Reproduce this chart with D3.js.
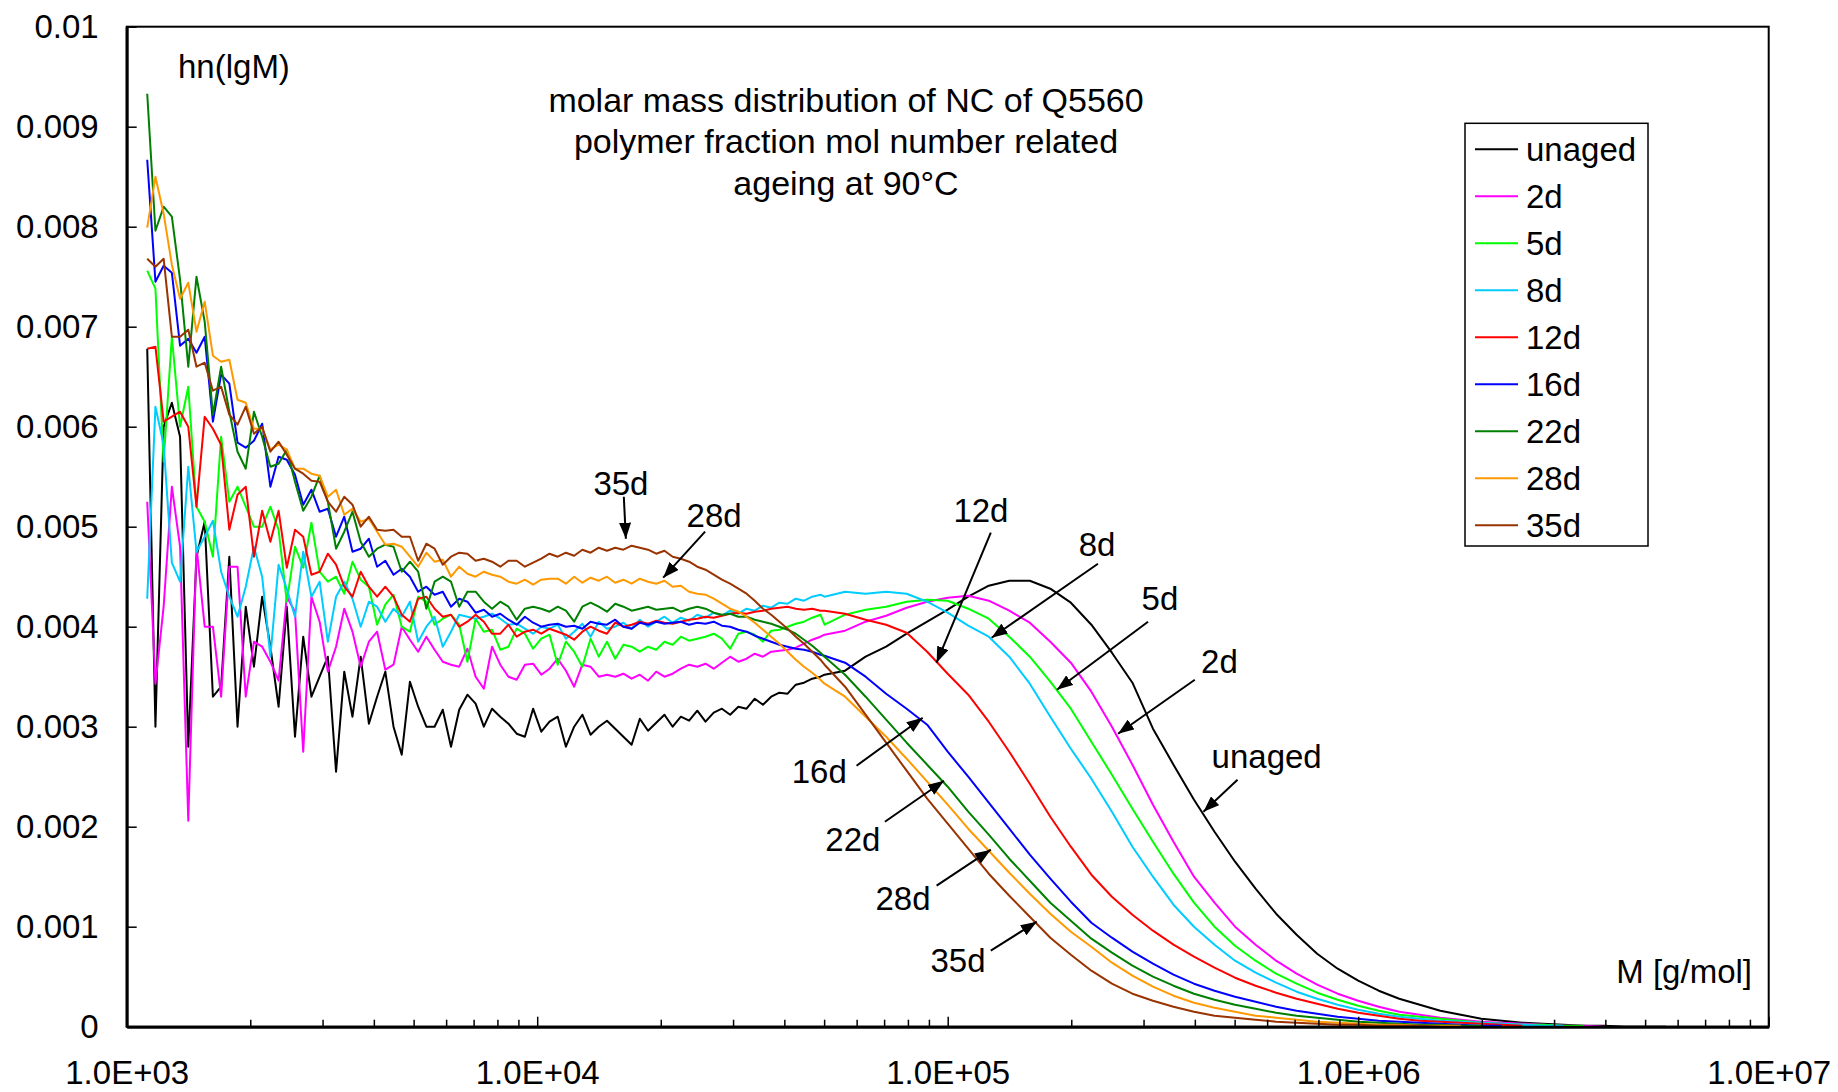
<!DOCTYPE html>
<html>
<head>
<meta charset="utf-8">
<script src="https://cdn.jsdelivr.net/npm/d3@7"></script>
<style>
  body { margin: 0; background: #fff; }
  svg text { font-family: "Liberation Sans", Arial, sans-serif; fill: #000; }
</style>
</head>
<body>
<div id="chart"></div>
<script>
// sampling grid, log10(M): fine steps in the noisy low-mass part, coarser in the smooth tail
const lgFine = d3.range(83).map((i) => 3.05 + 0.02 * i);
const lgCoarse = d3.range(43).map((i) => 4.7 + 0.05 * i);
const lgM = lgFine.concat(lgCoarse);

// hn(lgM) values in units of 1e-5 (null = no data)
const hnUnaged = [
  678, 300, 600, 624, 590, 280, 470, 505, 330, 340, 470, 300, 420, 360, 430, 380, 320, 420, 290, 390, 330, 350, 370, 255,
  355, 310, 370, 303, 330, 355, 300, 272, 345, 320, 300, 300, 317, 280, 317, 332, 323, 300, 318, 310, 303, 293, 290, 318, 295, 305,
  310, 280, 300, 312, 292, 300, 306, 298, 290, 282, 308, 296, 304, 312, 300, 310, 306, 316, 305, 314, 318, 312, 320, 318, 328, 322, 330, 334, 333, 342, 344, 348, 350,
  352, 356, 370, 380, 393, 405, 417, 430, 441, 446, 446, 438, 424, 402, 374, 344, 298, 262, 227, 195, 165, 138, 113, 92, 73, 58, 46, 36, 28, 22, 16, 12, 8, 6, 4, 3, 2, 1, 1, 0, 0, 0, null
];
const hn2d = [
  525, 343, 420, 540, 480, 206, 480, 400, 400, 330, 460, 460, 330, 385, 380, 365, 346, 430, 415, 275, 430, 405, 355, 380,
  418, 395, 360, 385, 395, 357, 362, 400, 387, 375, 390, 377, 365, 362, 360, 378, 350, 338, 380, 362, 350, 347, 362, 363, 352, 358,
  368, 356, 340, 362, 360, 350, 352, 350, 353, 348, 352, 346, 355, 350, 353, 358, 362, 360, 363, 358, 364, 370, 365, 368, 373, 370, 375, 376, 377, 379, 383, 387, 390,
  392, 396, 405, 411, 419, 425, 429, 431, 426, 416, 404, 385, 364, 335, 300, 262, 222, 185, 150, 124, 100, 82, 66, 53, 42, 33, 26, 20, 15, 12, 9, 7, 5, 4, 3, 2, 1, 1, 0, null, null, null, null
];
const hn5d = [
  756, 738, 565, 690, 600, 640, 520, 505, 470, 590, 525, 540, 520, 500, 500, 520, 497, 425, 480, 459, 504, 455, 445, 450,
  433, 465, 447, 440, 402, 422, 432, 400, 395, 430, 425, 402, 408, 412, 402, 365, 408, 395, 397, 377, 380, 398, 393, 378, 388, 392,
  362, 385, 375, 360, 388, 370, 385, 368, 382, 380, 375, 380, 377, 385, 382, 390, 386, 388, 390, 393, 388, 378, 393, 395, 392, 385, 396, 397, 400, 403, 405, 409, 412,
  402, 412, 417, 420, 425, 427, 426, 418, 408, 390, 370, 345, 318, 285, 252, 218, 185, 153, 124, 100, 81, 66, 53, 43, 34, 27, 21, 16, 12, 10, 8, 6, 4, 3, 2, 2, 1, 1, null, null, null, null, null
];
const hn8d = [
  428, 620, 582, 464, 445, 560, 475, 490, 506, 455, 430, 410, 440, 480, 450, 370, 462, 438, 410, 475, 430, 445, 385, 430,
  445, 428, 400, 425, 420, 405, 418, 410, 425, 385, 400, 410, 380, 395, 412, 410, 408, 410, 413, 408, 402, 403, 398, 393, 400, 398,
  402, 388, 395, 403, 390, 405, 398, 400, 404, 398, 407, 400, 405, 410, 404, 409, 406, 412, 409, 414, 411, 416, 413, 418, 416, 421, 419, 424, 423, 428, 426, 430, 432,
  430, 435, 433, 435, 433, 425, 414, 401, 390, 370, 343, 310, 278, 248, 215, 180, 150, 122, 100, 82, 66, 54, 44, 35, 28, 22, 17, 13, 10, 8, 6, 5, 4, 3, 2, 1, 1, null, null, null, null, null, null
];
const hn12d = [
  678, 680, 605, 610, 615, 600, 520, 610, 598, 582, 497, 532, 540, 470, 516, 485, 516, 459, 497, 490, 452, 455, 473, 462,
  440, 430, 455, 440, 430, 440, 430, 412, 405, 428, 430, 418, 410, 412, 400, 405, 412, 405, 393, 393, 402, 390, 395, 397, 393, 398,
  395, 392, 387, 395, 400, 396, 393, 404, 400, 402, 405, 403, 406, 404, 403, 405, 407, 408, 410, 409, 411, 413, 414, 413, 415, 416, 418, 419, 420, 418, 417, 418, 416,
  416, 413, 407, 402, 394, 375, 353, 332, 305, 275, 243, 210, 180, 152, 130, 112, 96, 82, 70, 59, 49, 41, 34, 28, 23, 18, 14, 11, 8, 6, 5, 4, 3, 2, 1, null, null, null, null, null, null, null, null
];
const hn16d = [
  867, 745, 761, 754, 681, 688, 674, 690, 605, 652, 643, 584, 579, 586, 603, 540, 570, 567, 552, 522, 537, 515, 518, 490,
  510, 475, 478, 488, 460, 466, 452, 458, 450, 435, 440, 432, 435, 420, 428, 425, 414, 417, 410, 413, 407, 402, 410, 404, 400, 402,
  403, 400, 401, 398, 405, 403, 402, 407, 400, 398, 404, 402, 405, 403, 404, 405, 402, 404, 403, 405, 401, 400, 397, 395, 391, 388, 385, 382, 380, 378, 377, 375, 372,
  371, 364, 350, 333, 318, 302, 275, 250, 224, 198, 172, 148, 125, 104, 89, 75, 63, 52, 43, 36, 30, 25, 20, 16, 13, 10, 8, 6, 5, 4, 3, 2, 1, 1, null, null, null, null, null, null, null, null, null
];
const hn22d = [
  933, 796, 820, 810, 747, 660, 750, 705, 612, 660, 615, 575, 558, 615, 590, 560, 563, 577, 545, 516, 530, 551, 525, 478,
  495, 515, 485, 470, 478, 482, 480, 455, 465, 455, 418, 445, 450, 445, 420, 435, 435, 425, 418, 425, 420, 407, 418, 420, 418, 415,
  420, 416, 405, 420, 424, 420, 415, 423, 420, 416, 418, 420, 417, 418, 419, 415, 418, 420, 418, 414, 412, 413, 410, 410, 407, 405, 403, 400, 397, 393, 387, 381, 374,
  370, 352, 330, 307, 284, 262, 240, 215, 192, 168, 146, 124, 106, 88, 74, 61, 50, 41, 33, 27, 22, 18, 14, 11, 9, 7, 5, 4, 3, 2, 2, 1, 1, null, null, null, null, null, null, null, null, null, null
];
const hn28d = [
  799, 850, 813, 762, 728, 744, 695, 725, 671, 665, 667, 627, 624, 598, 598, 577, 582, 577, 558, 558, 553, 551, 530, 537,
  512, 518, 505, 508, 495, 482, 483, 480, 470, 460, 474, 465, 467, 450, 460, 453, 450, 455, 452, 450, 445, 443, 447, 442, 447, 448,
  448, 443, 450, 444, 449, 446, 450, 444, 447, 443, 448, 445, 443, 446, 440, 441, 435, 433, 432, 428, 423, 418, 415, 410, 404, 397, 390, 383, 375, 367, 360, 354, 347,
  343, 330, 310, 290, 268, 245, 222, 198, 176, 154, 133, 113, 95, 80, 64, 51, 40, 31, 24, 19, 15, 11, 9, 7, 5, 4, 3, 2, 2, 1, 1, 1, null, null, null, null, null, null, null, null, null, null, null
];
const hn35d = [
  768, 760, 768, 690, 690, 697, 660, 664, 636, 640, 612, 602, 620, 593, 600, 575, 585, 572, 558, 553, 546, 545, 525, 515,
  530, 522, 500, 510, 497, 496, 497, 490, 490, 466, 483, 478, 462, 470, 474, 473, 466, 468, 465, 460, 466, 466, 460, 464, 468, 473,
  470, 474, 471, 477, 474, 479, 476, 479, 477, 481, 479, 477, 473, 476, 470, 468, 465, 460, 457, 452, 447, 443, 438, 433, 426, 418, 412, 405, 398, 390, 383, 375, 367,
  362, 340, 312, 284, 256, 228, 203, 178, 153, 131, 110, 89, 72, 56, 43, 33, 26, 20, 15, 11, 9, 7, 5, 4, 3, 2, 2, 1, 1, 1, 0, null, null, null, null, null, null, null, null, null, null, null, null
];

const seriesNames = ["unaged", "2d", "5d", "8d", "12d", "16d", "22d", "28d", "35d"];
const seriesValues = [hnUnaged, hn2d, hn5d, hn8d, hn12d, hn16d, hn22d, hn28d, hn35d];
const seriesColors = ["#000000", "#ff00ff", "#00ff00", "#00ccff", "#ff0000", "#0000ff", "#008000", "#ff9900", "#993300"];

const yTicks = d3.range(11).map((i) => i / 1000);
const yTickLabels = ["0", "0.001", "0.002", "0.003", "0.004", "0.005", "0.006", "0.007", "0.008", "0.009", "0.01"];
const xMajor = [1e3, 1e4, 1e5, 1e6, 1e7];
const xTickLabels = ["1.0E+03", "1.0E+04", "1.0E+05", "1.0E+06", "1.0E+07"];
const xMinor = [];
[1e3, 1e4, 1e5, 1e6].forEach((p) => d3.range(2, 10).forEach((m) => xMinor.push(m * p)));

const titleLines = [
  "molar mass distribution of NC of Q5560",
  "polymer fraction mol number related",
  "ageing at 90°C",
];

// callouts in data units: label [lgM, hn*1e5], arrow start, arrow tip
const callouts = [
  { text: "35d", label: [4.204, 532], from: [4.211, 530], to: [4.216, 488] },
  { text: "28d", label: [4.431, 500], from: [4.409, 495], to: [4.307, 449] },
  { text: "12d", label: [5.081, 505], from: [5.105, 494], to: [4.973, 364] },
  { text: "8d", label: [5.364, 471], from: [5.366, 463], to: [5.107, 389] },
  { text: "5d", label: [5.517, 417], from: [5.488, 405], to: [5.266, 337] },
  { text: "2d", label: [5.662, 354], from: [5.602, 347], to: [5.415, 293] },
  { text: "unaged", label: [5.777, 259], from: [5.706, 247], to: [5.623, 215] },
  { text: "16d", label: [4.687, 244], from: [4.778, 261], to: [4.939, 309] },
  { text: "22d", label: [4.769, 176], from: [4.847, 205], to: [4.991, 246] },
  { text: "28d", label: [4.891, 117], from: [4.973, 141], to: [5.105, 177] },
  { text: "35d", label: [5.025, 55], from: [5.105, 76], to: [5.217, 105] },
];

const width = 1838;
const height = 1092;
const fontSize = 33;
const plotL = 126.7, plotR = 1768.7, plotT = 26.7, plotB = 1026.7;

const x = d3.scaleLog().domain([1e3, 1e7]).range([plotL, plotR]);
const y = d3.scaleLinear().domain([0, 0.01]).range([plotB, plotT]);
const px = (lg) => x(Math.pow(10, lg));
const py = (v) => y(v * 1e-5);

const svg = d3
  .select("#chart")
  .append("svg")
  .attr("width", width)
  .attr("height", height);

svg.append("rect").attr("width", width).attr("height", height).attr("fill", "#fff");

// plot frame (top and right thinner than the axes)
svg
  .append("rect")
  .attr("x", plotL)
  .attr("y", plotT)
  .attr("width", plotR - plotL)
  .attr("height", plotB - plotT)
  .attr("fill", "none")
  .attr("stroke", "#000")
  .attr("stroke-width", 2);

// series, first legend entry drawn first
const line = d3
  .line()
  .defined((d) => d.v !== null)
  .x((d) => px(d.lg))
  .y((d) => py(d.v));

seriesValues.forEach((vals, s) => {
  const pts = lgM.map((lg, i) => ({ lg, v: vals[i] }));
  svg
    .append("path")
    .datum(pts)
    .attr("fill", "none")
    .attr("stroke", seriesColors[s])
    .attr("stroke-width", 2)
    .attr("stroke-linejoin", "round")
    .attr("d", line);
});

// axes
const yAxis = svg
  .append("g")
  .attr("transform", `translate(${plotL},0)`)
  .call(
    d3.axisLeft(y).tickValues(yTicks).tickSize(-10).tickSizeOuter(0).tickPadding(28)
      .tickFormat((d, i) => yTickLabels[i])
  );

const xAxis = svg
  .append("g")
  .attr("transform", `translate(0,${plotB})`)
  .call(
    d3.axisBottom(x).tickValues(xMajor).tickSize(-10).tickSizeOuter(0).tickPadding(34)
      .tickFormat((d, i) => xTickLabels[i])
  );

svg
  .append("g")
  .attr("transform", `translate(0,${plotB})`)
  .call(d3.axisBottom(x).tickValues(xMinor).tickSize(-7).tickSizeOuter(0).tickFormat(""))
  .call((g) => g.select(".domain").remove())
  .selectAll("line")
  .attr("stroke-width", 1.5);

[yAxis, xAxis].forEach((g) => {
  g.attr("font-size", fontSize).attr("font-family", "Liberation Sans, Arial, sans-serif");
  g.select(".domain").attr("stroke-width", 3);
  g.selectAll(".tick line").attr("stroke-width", 1.5);
  g.selectAll(".tick text").attr("fill", "#000");
});

// axis titles
svg.append("text").attr("x", 178).attr("y", 78).attr("font-size", fontSize).text("hn(lgM)");
svg
  .append("text")
  .attr("x", 1752)
  .attr("y", 983)
  .attr("font-size", fontSize)
  .attr("text-anchor", "end")
  .text("M [g/mol]");

// chart title
svg
  .selectAll(".title")
  .data(titleLines)
  .join("text")
  .attr("class", "title")
  .attr("x", 846)
  .attr("y", (d, i) => 111.7 + i * 41.7)
  .attr("text-anchor", "middle")
  .attr("font-size", 34)
  .text((d) => d);

// legend
const legend = svg.append("g");
legend
  .append("rect")
  .attr("x", 1465)
  .attr("y", 123.3)
  .attr("width", 183)
  .attr("height", 422.7)
  .attr("fill", "#fff")
  .attr("stroke", "#000")
  .attr("stroke-width", 1.5);

seriesNames.forEach((name, i) => {
  const cy = 149.3 + i * 47;
  legend
    .append("line")
    .attr("x1", 1475)
    .attr("x2", 1518)
    .attr("y1", cy)
    .attr("y2", cy)
    .attr("stroke", seriesColors[i])
    .attr("stroke-width", 2);
  legend
    .append("text")
    .attr("x", 1526)
    .attr("y", cy)
    .attr("dy", "0.36em")
    .attr("font-size", fontSize)
    .text(name);
});

// callout arrows
svg
  .append("defs")
  .append("marker")
  .attr("id", "head")
  .attr("markerUnits", "userSpaceOnUse")
  .attr("markerWidth", 16)
  .attr("markerHeight", 12)
  .attr("refX", 16)
  .attr("refY", 6)
  .attr("orient", "auto")
  .append("path")
  .attr("d", "M0,0 L16,6 L0,12 Z")
  .attr("fill", "#000");

const ann = svg.append("g");
callouts.forEach((c) => {
  ann
    .append("line")
    .attr("x1", px(c.from[0]))
    .attr("y1", py(c.from[1]))
    .attr("x2", px(c.to[0]))
    .attr("y2", py(c.to[1]))
    .attr("stroke", "#000")
    .attr("stroke-width", 2)
    .attr("marker-end", "url(#head)");
  ann
    .append("text")
    .attr("x", px(c.label[0]))
    .attr("y", py(c.label[1]))
    .attr("text-anchor", "middle")
    .attr("font-size", fontSize)
    .text(c.text);
});
</script>
</body>
</html>
